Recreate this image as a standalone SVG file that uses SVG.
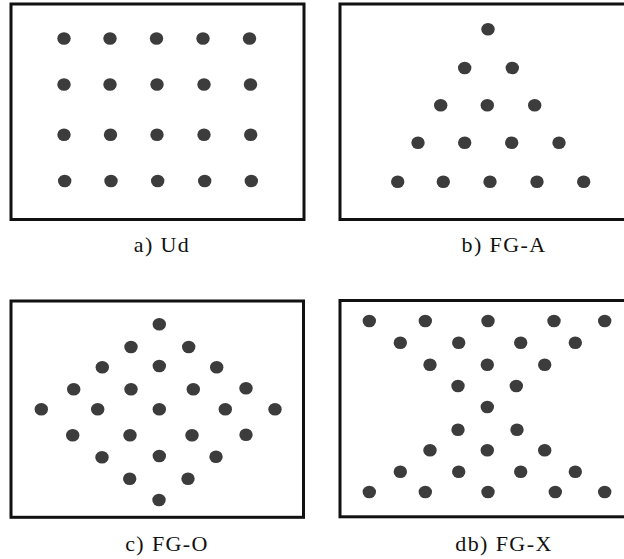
<svg xmlns="http://www.w3.org/2000/svg" width="624" height="559" viewBox="0 0 624 559">
<style>
.box{fill:#fff;stroke:#111;stroke-width:3}
.d{fill:#3c3c3c}
.lbl{font-family:"Liberation Serif","DejaVu Serif",serif;font-size:22px;letter-spacing:1.4px;fill:#111;text-anchor:middle}
</style>
<defs><ellipse id="p" rx="6.7" ry="6.3" class="d"/></defs>
<rect width="624" height="559" fill="#fff"/>
<g id="panel-a">
<rect class="box" x="11" y="4" width="293" height="215.5"/>
<use href="#p" x="64" y="38.5"/><use href="#p" x="110" y="38.5"/><use href="#p" x="156.5" y="38.5"/><use href="#p" x="203" y="38.5"/><use href="#p" x="249.5" y="38.5"/>
<use href="#p" x="64" y="84.5"/><use href="#p" x="110" y="84.5"/><use href="#p" x="157" y="84.5"/><use href="#p" x="204" y="84.5"/><use href="#p" x="250.5" y="84.5"/>
<use href="#p" x="64" y="134.7"/><use href="#p" x="110.5" y="134.7"/><use href="#p" x="157" y="134.7"/><use href="#p" x="204" y="134.7"/><use href="#p" x="250.7" y="134.7"/>
<use href="#p" x="64.7" y="181"/><use href="#p" x="111" y="181"/><use href="#p" x="157.7" y="181"/><use href="#p" x="204.7" y="181"/><use href="#p" x="251.3" y="181"/>
<text class="lbl" x="162" y="251.5">a) Ud</text>
</g>
<g id="panel-b">
<rect class="box" x="340" y="4" width="290" height="215.5"/>
<use href="#p" x="488" y="29.3"/>
<use href="#p" x="464.7" y="68"/><use href="#p" x="512.3" y="68"/>
<use href="#p" x="440.7" y="105.3"/><use href="#p" x="487.3" y="105.3"/><use href="#p" x="534.7" y="105.3"/>
<use href="#p" x="418" y="142.7"/><use href="#p" x="464.7" y="142.7"/><use href="#p" x="511.7" y="142.7"/><use href="#p" x="559" y="142.7"/>
<use href="#p" x="397.7" y="181.7"/><use href="#p" x="443.3" y="181.7"/><use href="#p" x="490" y="181.7"/><use href="#p" x="537" y="181.7"/><use href="#p" x="583.7" y="181.7"/>
<text class="lbl" x="504" y="251.5">b) FG-A</text>
</g>
<g id="panel-c">
<rect class="box" x="11" y="301" width="292.5" height="216.3"/>
<use href="#p" x="159.3" y="324.3"/>
<use href="#p" x="131" y="347"/><use href="#p" x="188.7" y="347"/>
<use href="#p" x="102.3" y="367.3"/><use href="#p" x="159.3" y="366"/><use href="#p" x="216.7" y="367.3"/>
<use href="#p" x="73.7" y="389.3"/><use href="#p" x="131" y="389.3"/><use href="#p" x="193.3" y="389.3"/><use href="#p" x="246" y="388.3"/>
<use href="#p" x="41.3" y="409.3"/><use href="#p" x="97.7" y="409.3"/><use href="#p" x="159.3" y="409.3"/><use href="#p" x="225.3" y="409.3"/><use href="#p" x="275" y="409.3"/>
<use href="#p" x="72.7" y="435.3"/><use href="#p" x="130" y="435.3"/><use href="#p" x="192" y="435.3"/><use href="#p" x="246" y="434.7"/>
<use href="#p" x="102" y="457.3"/><use href="#p" x="159.3" y="456"/><use href="#p" x="216" y="456.7"/>
<use href="#p" x="129.7" y="478.7"/><use href="#p" x="188" y="478.7"/>
<use href="#p" x="159" y="500"/>
<text class="lbl" x="167" y="551">c) FG-O</text>
</g>
<g id="panel-d">
<rect class="box" x="340" y="300.5" width="290" height="216.3"/>
<use href="#p" x="369.3" y="321"/><use href="#p" x="425.3" y="321"/><use href="#p" x="488" y="321"/><use href="#p" x="554" y="321"/><use href="#p" x="604.7" y="321"/>
<use href="#p" x="400.3" y="342.7"/><use href="#p" x="458.7" y="342.7"/><use href="#p" x="520.7" y="342.7"/><use href="#p" x="575.3" y="342.7"/>
<use href="#p" x="430" y="364.7"/><use href="#p" x="487.3" y="364.7"/><use href="#p" x="544.7" y="364.7"/>
<use href="#p" x="458" y="386"/><use href="#p" x="516.3" y="386"/>
<use href="#p" x="487.3" y="407"/>
<use href="#p" x="458" y="429.7"/><use href="#p" x="517" y="429.7"/>
<use href="#p" x="430" y="450.3"/><use href="#p" x="487.3" y="450.3"/><use href="#p" x="544.7" y="450.3"/>
<use href="#p" x="400.3" y="471.7"/><use href="#p" x="458.7" y="471.7"/><use href="#p" x="520.7" y="471.7"/><use href="#p" x="575.3" y="471.7"/>
<use href="#p" x="369.3" y="492"/><use href="#p" x="425.3" y="492"/><use href="#p" x="488" y="492"/><use href="#p" x="555.3" y="492"/><use href="#p" x="604.7" y="492"/>
<text class="lbl" x="504" y="551">db) FG-X</text>
</g>
</svg>
